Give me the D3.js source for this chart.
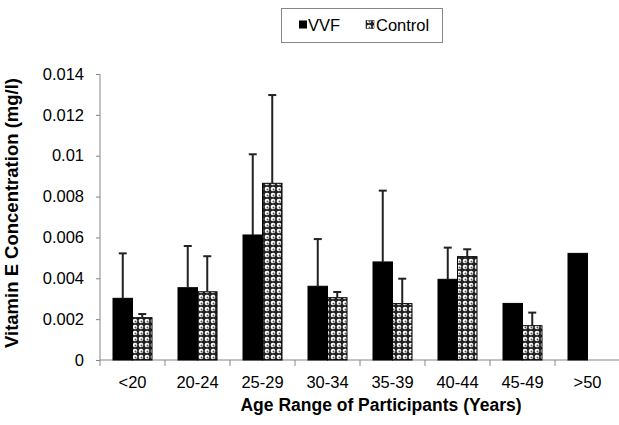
<!DOCTYPE html>
<html><head><meta charset="utf-8">
<script src="https://cdn.jsdelivr.net/npm/d3@7"></script>
<style>body{margin:0;background:#fff;} svg{display:block;font-family:Arial,"Liberation Sans",sans-serif;}</style>
</head><body>
<script>
const categories = ["<20","20-24","25-29","30-34","35-39","40-44","45-49",">50"];
const vvf       = [0.00302,0.00354,0.00612,0.00361,0.00480,0.00395,0.00277,0.00522];
const vvfErr    = [0.00522,0.00558,0.01007,0.00592,0.00829,0.00550,null,null];
const control   = [0.00207,0.00334,0.00865,0.00305,0.00276,0.00506,0.00168,null];
const controlErr= [0.00225,0.00508,0.01297,0.00333,0.00398,0.00542,0.00232,null];
const yTicks = [0,0.002,0.004,0.006,0.008,0.01,0.012,0.014];
const seriesNames = ["VVF","Control"];

const W=619,H=425;
const svg=d3.select("body").append("svg").attr("width",W).attr("height",H);
const defs=svg.append("defs");
const pat=defs.append("pattern").attr("id","chk").attr("patternUnits","userSpaceOnUse").attr("width",6).attr("height",6);
pat.append("rect").attr("width",6).attr("height",6).attr("fill","#222");
pat.append("circle").attr("cx",3).attr("cy",3).attr("r",2.3).attr("fill","#fff");
pat.append("circle").attr("cx",3.5).attr("cy",3.5).attr("r",1).attr("fill","#555");

const x0=100,x1=620,yb=360,yt=74;
const x=d3.scaleBand().domain(categories).range([x0,x1]).paddingInner(0).paddingOuter(0);
const y=d3.scaleLinear().domain([0,0.014]).range([yb,yt]);
const bw=x.bandwidth()*0.3;
const gap=(x.bandwidth()-2*bw)/2;
const FS="16.5px";

// y axis
const ya=svg.append("g").attr("transform",`translate(${x0},0)`)
  .call(d3.axisLeft(y).tickValues(yTicks).tickSize(4).tickPadding(12).tickFormat(d=>d===0?"0":String(+d.toFixed(3))));
ya.select(".domain").attr("stroke","#868686").attr("d",`M0,${yt}V${yb}`);
ya.selectAll(".tick line").attr("stroke","#868686");
ya.selectAll("text").attr("font-size",FS).attr("fill","#000").attr("font-family","Arial,'Liberation Sans',sans-serif");

// x axis
const xa=svg.append("g").attr("transform",`translate(0,${yb})`)
  .call(d3.axisBottom(x).tickSize(0).tickPadding(16));
xa.select(".domain").attr("stroke","#868686").attr("d",`M${x0},0H${x1}`);
xa.selectAll("text").attr("font-size",FS).attr("fill","#000").attr("font-family","Arial,'Liberation Sans',sans-serif");
xa.selectAll(".tk").data(categories).enter().append("line")
  .attr("x1",d=>x(d)).attr("x2",d=>x(d)).attr("y1",0).attr("y2",6).attr("stroke","#868686");

const g=svg.append("g");
function drawSeries(vals,errs,off,fill){
  categories.forEach((c,i)=>{
    if(vals[i]==null) return;
    const bx=x(c)+gap+off;
    if(errs[i]!=null){
      const cx=bx+bw/2;
      g.append("line").attr("x1",cx).attr("x2",cx).attr("y1",y(vals[i])).attr("y2",y(errs[i])).attr("stroke","#222").attr("stroke-width",2);
      g.append("line").attr("x1",cx-4).attr("x2",cx+4).attr("y1",y(errs[i])).attr("y2",y(errs[i])).attr("stroke","#222").attr("stroke-width",2);
    }
    g.insert("rect",":first-child").attr("x",bx).attr("y",y(vals[i])).attr("width",bw).attr("height",yb-y(vals[i]))
      .attr("fill",fill).attr("stroke","#000").attr("stroke-width",1);
  });
}
drawSeries(vvf,vvfErr,0,"#000");
drawSeries(control,controlErr,bw,"url(#chk)");

// axis titles
svg.append("text").attr("x",381).attr("y",411).attr("text-anchor","middle").attr("font-weight","bold").attr("font-size","17.5px").text("Age Range of Participants (Years)");
svg.append("text").attr("transform","translate(18,213) rotate(-90)").attr("text-anchor","middle").attr("font-weight","bold").attr("font-size","18.5px").text("Vitamin E Concentration (mg/l)");

// legend
const lg=svg.append("g");
lg.append("rect").attr("x",281.5).attr("y",8.5).attr("width",161).attr("height",34).attr("fill","#fff").attr("stroke","#868686");
lg.append("rect").attr("x",299).attr("y",20.5).attr("width",8).attr("height",8).attr("fill","#000");
lg.append("text").attr("x",308).attr("y",31).attr("font-size",FS).text(seriesNames[0]);
lg.append("rect").attr("x",366).attr("y",20.5).attr("width",8).attr("height",8).attr("fill","url(#chk)").attr("stroke","#000").attr("stroke-width",0.5);
lg.append("text").attr("x",376).attr("y",31).attr("font-size",FS).text(seriesNames[1]);
</script>
</body></html>
